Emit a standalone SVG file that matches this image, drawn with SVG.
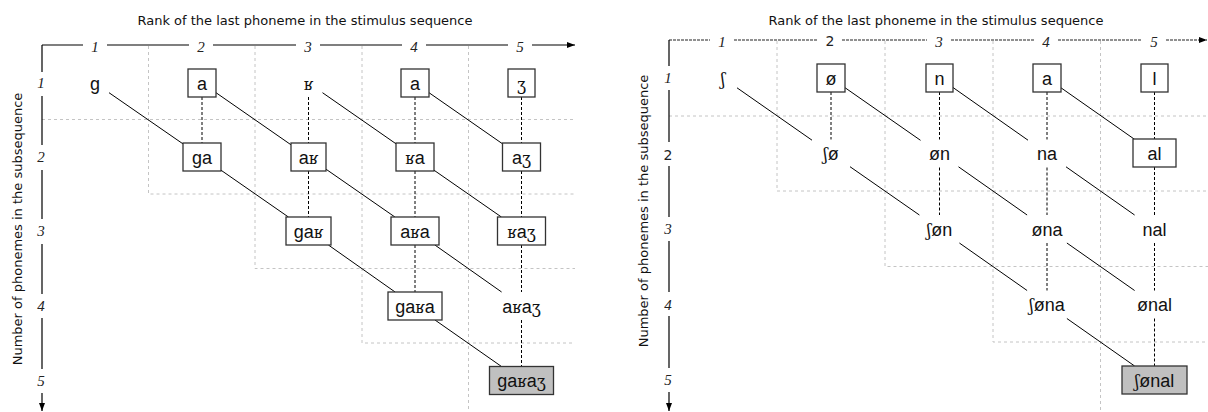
<svg xmlns="http://www.w3.org/2000/svg" width="1208" height="412" viewBox="0 0 1208 412">
<style>
.title{font-family:"DejaVu Sans",Verdana,sans-serif;font-size:13px;fill:#111}
.ax{fill:none;stroke:#000;stroke-width:1.2}
.axd{fill:none;stroke:#222;stroke-width:1.2;stroke-dasharray:3,1}
.lab{font-family:"Liberation Serif","DejaVu Serif",serif;font-style:italic;font-size:15px;fill:#222;text-anchor:middle}
.labs{font-family:"DejaVu Sans",sans-serif;font-size:14px;fill:#222;text-anchor:middle}
.grid{fill:none;stroke:#c4c4c4;stroke-width:1;stroke-dasharray:3,3}
.diag{stroke:#000;stroke-width:1}
.vert{stroke:#000;stroke-width:1;stroke-dasharray:3,2}
.box{fill:#fff;stroke:#333;stroke-width:1.3}
.fin{fill:#c0c0c0;stroke:#333;stroke-width:1.3}
.t{font-family:"Liberation Sans","DejaVu Serif",sans-serif;font-size:18px;fill:#111;text-anchor:middle}
.ipa{font-family:"DejaVu Serif","Liberation Serif",serif;font-size:16px}
</style>
<defs>
<marker id="arr" markerUnits="userSpaceOnUse" markerWidth="9" markerHeight="7" refX="8" refY="3.5" orient="auto">
<path d="M0,0.5 L8,3.5 L0,6.5 z" fill="#000" stroke="none"/>
</marker>
</defs>

<!-- ===== LEFT PANEL ===== -->
<g id="left-grid" class="grid">
<path d="M42,119.5 H575"/>
<path d="M148.5,46 V194 H575"/>
<path d="M255,46 V268.5 H575"/>
<path d="M362,46 V343 H575"/>
<path d="M468.5,46 V412"/>
</g>
<g id="left-axes">
<text class="title" x="305" y="25" text-anchor="middle">Rank of the last phoneme in the stimulus sequence</text>
<text class="title" transform="translate(22,229) rotate(-90)" text-anchor="middle">Number of phonemes in the subsequence</text>
<path class="ax" d="M42,45 H83 M107,45 H189 M213,45 H296 M320,45 H402 M426,45 H508"/>
<path class="ax" d="M532,45 H575" marker-end="url(#arr)"/>
<path class="ax" d="M42,45 V72 M42,96 V145 M42,170 V219 M42,244 V294 M42,318 V369"/>
<path class="ax" d="M42,393 V411" marker-end="url(#arr)"/>
<text class="lab" x="95" y="51.5">1</text>
<text class="lab" x="201" y="51.5">2</text>
<text class="lab" x="308" y="51.5">3</text>
<text class="lab" x="414" y="51.5">4</text>
<text class="lab" x="520" y="51.5">5</text>
<text class="lab" x="41" y="88">1</text>
<text class="lab" x="41" y="162">2</text>
<text class="lab" x="41" y="236">3</text>
<text class="lab" x="41" y="311">4</text>
<text class="lab" x="41" y="385.5">5</text>
</g>
<g id="left-connectors">
<line class="diag" x1="109" y1="92.7" x2="183" y2="143.9"/>
<line class="diag" x1="216" y1="92.7" x2="291" y2="144.8"/>
<line class="diag" x1="322.5" y1="92.7" x2="396" y2="143.8"/>
<line class="diag" x1="429" y1="92.7" x2="502.5" y2="143.8"/>
<line class="diag" x1="221" y1="170.2" x2="288.4" y2="217"/>
<line class="diag" x1="326" y1="169.2" x2="394.9" y2="217"/>
<line class="diag" x1="434" y1="170.2" x2="501.4" y2="217"/>
<line class="diag" x1="328.4" y1="245" x2="395.1" y2="292"/>
<line class="diag" x1="434.9" y1="245" x2="501.6" y2="292"/>
<line class="diag" x1="435" y1="320" x2="501.5" y2="366.5"/>
<line class="vert" x1="202" y1="97" x2="202" y2="143"/>
<line class="vert" x1="308.5" y1="97" x2="308.5" y2="143"/>
<line class="vert" x1="308.5" y1="171" x2="308.5" y2="217"/>
<line class="vert" x1="415" y1="97" x2="415" y2="143"/>
<line class="vert" x1="415" y1="171" x2="415" y2="217"/>
<line class="vert" x1="415" y1="245" x2="415" y2="292"/>
<line class="vert" x1="521.5" y1="97" x2="521.5" y2="143"/>
<line class="vert" x1="521.5" y1="171" x2="521.5" y2="217"/>
<line class="vert" x1="521.5" y1="245" x2="521.5" y2="292"/>
<line class="vert" x1="521.5" y1="320" x2="521.5" y2="366.5"/>
</g>
<g id="L-g"><text class="t" x="95" y="89.5">g</text></g>
<g id="L-a1"><rect class="box" x="188" y="69" width="28" height="28"/><text class="t" x="202" y="89.5">a</text></g>
<g id="L-r"><text class="t" x="308.5" y="89.5"><tspan class="ipa">ʁ</tspan></text></g>
<g id="L-a2"><rect class="box" x="401" y="69" width="28" height="28"/><text class="t" x="415" y="89.5">a</text></g>
<g id="L-zh"><rect class="box" x="508" y="69" width="27" height="28"/><text class="t" x="521.5" y="89.5"><tspan class="ipa">ʒ</tspan></text></g>
<g id="L-ga"><rect class="box" x="183" y="143" width="38" height="28"/><text class="t" x="202" y="163.5">ga</text></g>
<g id="L-ar"><rect class="box" x="291" y="143" width="35" height="28"/><text class="t" x="308.5" y="163.5">a<tspan class="ipa">ʁ</tspan></text></g>
<g id="L-ra"><rect class="box" x="396" y="143" width="38" height="28"/><text class="t" x="415" y="163.5"><tspan class="ipa">ʁ</tspan>a</text></g>
<g id="L-azh"><rect class="box" x="502.5" y="143" width="38" height="28"/><text class="t" x="521.5" y="163.5">a<tspan class="ipa">ʒ</tspan></text></g>
<g id="L-gar"><rect class="box" x="286" y="217" width="45" height="28"/><text class="t" x="308.5" y="237.5">ga<tspan class="ipa">ʁ</tspan></text></g>
<g id="L-ara"><rect class="box" x="391" y="217" width="48" height="28"/><text class="t" x="415" y="237.5">a<tspan class="ipa">ʁ</tspan>a</text></g>
<g id="L-razh"><rect class="box" x="497.5" y="217" width="48" height="28"/><text class="t" x="521.5" y="237.5"><tspan class="ipa">ʁ</tspan>a<tspan class="ipa">ʒ</tspan></text></g>
<g id="L-gara"><rect class="box" x="388" y="292" width="54" height="28"/><text class="t" x="415" y="312.5">ga<tspan class="ipa">ʁ</tspan>a</text></g>
<g id="L-arazh"><text class="t" x="521.5" y="312.5">a<tspan class="ipa">ʁ</tspan>a<tspan class="ipa">ʒ</tspan></text></g>
<g id="L-garazh"><rect class="fin" x="489.5" y="366.5" width="64" height="28"/><text class="t" x="521.5" y="387">ga<tspan class="ipa">ʁ</tspan>a<tspan class="ipa">ʒ</tspan></text></g>

<!-- ===== RIGHT PANEL ===== -->
<g id="right-grid" class="grid">
<path d="M669,116 H1208"/>
<path d="M777,41 V191 H1208"/>
<path d="M885,41 V266.5 H1208"/>
<path d="M993,41 V342 H1208"/>
<path d="M1100.5,41 V412"/>
</g>
<g id="right-axes">
<text class="title" x="936" y="25" text-anchor="middle">Rank of the last phoneme in the stimulus sequence</text>
<text class="title" transform="translate(648,211) rotate(-90)" text-anchor="middle">Number of phonemes in the subsequence</text>
<path class="axd" d="M669,40 H710 M734,40 H818 M842,40 H927 M951,40 H1034 M1058,40 H1142"/>
<path class="axd" d="M1166,40 H1207" marker-end="url(#arr)"/>
<path class="ax" d="M669,40 V66 M669,90 V142 M669,166 V217 M669,241 V292 M669,316 V368"/>
<path class="ax" d="M669,392 V411" marker-end="url(#arr)"/>
<text class="lab" x="722" y="46.5">1</text>
<text class="labs" x="830" y="46">2</text>
<text class="lab" x="939" y="46.5">3</text>
<text class="lab" x="1046" y="46.5">4</text>
<text class="lab" x="1154" y="46.5">5</text>
<text class="lab" x="668" y="83">1</text>
<text class="labs" x="668" y="159.5">2</text>
<text class="lab" x="668" y="234">3</text>
<text class="lab" x="668" y="309.5">4</text>
<text class="lab" x="668" y="385">5</text>
</g>
<g id="right-connectors">
<line class="diag" x1="737" y1="87.8" x2="812" y2="140.2"/>
<line class="diag" x1="845" y1="87.7" x2="920.5" y2="140.3"/>
<line class="diag" x1="953" y1="87.5" x2="1028" y2="140.2"/>
<line class="diag" x1="1061" y1="87.8" x2="1134.5" y2="139.3"/>
<line class="diag" x1="850" y1="166.7" x2="919.4" y2="215"/>
<line class="diag" x1="958.5" y1="166.8" x2="1027.1" y2="215"/>
<line class="diag" x1="1066" y1="166.8" x2="1134.6" y2="215"/>
<line class="diag" x1="959.4" y1="243" x2="1027.1" y2="290.5"/>
<line class="diag" x1="1066.9" y1="243" x2="1134.6" y2="290.5"/>
<line class="diag" x1="1066.9" y1="318.5" x2="1134.6" y2="366"/>
<line class="vert" x1="831" y1="92" x2="831" y2="139.5"/>
<line class="vert" x1="939.5" y1="92" x2="939.5" y2="139.5"/>
<line class="vert" x1="939.5" y1="167.5" x2="939.5" y2="215"/>
<line class="vert" x1="1047" y1="92" x2="1047" y2="139.5"/>
<line class="vert" x1="1047" y1="167.5" x2="1047" y2="215"/>
<line class="vert" x1="1047" y1="243" x2="1047" y2="290.5"/>
<line class="vert" x1="1154.5" y1="92" x2="1154.5" y2="139"/>
<line class="vert" x1="1154.5" y1="167" x2="1154.5" y2="215"/>
<line class="vert" x1="1154.5" y1="243" x2="1154.5" y2="290.5"/>
<line class="vert" x1="1154.5" y1="318.5" x2="1154.5" y2="366"/>
</g>
<g id="R-sh"><text class="t" x="723" y="84.5"><tspan class="ipa">ʃ</tspan></text></g>
<g id="R-oe"><rect class="box" x="817" y="64" width="28" height="28"/><text class="t" x="831" y="84.5">ø</text></g>
<g id="R-n"><rect class="box" x="926" y="64" width="27" height="28"/><text class="t" x="939.5" y="84.5">n</text></g>
<g id="R-a"><rect class="box" x="1033" y="64" width="28" height="28"/><text class="t" x="1047" y="84.5">a</text></g>
<g id="R-l"><rect class="box" x="1141" y="64" width="27" height="28"/><text class="t" x="1154.5" y="84.5">l</text></g>
<g id="R-shoe"><text class="t" x="831" y="160"><tspan class="ipa">ʃ</tspan>ø</text></g>
<g id="R-oen"><text class="t" x="939.5" y="160">øn</text></g>
<g id="R-na"><text class="t" x="1047" y="160">na</text></g>
<g id="R-al"><rect class="box" x="1133" y="139" width="43" height="28"/><text class="t" x="1154.5" y="159.5">al</text></g>
<g id="R-shoen"><text class="t" x="939.5" y="235.5"><tspan class="ipa">ʃ</tspan>øn</text></g>
<g id="R-oena"><text class="t" x="1047" y="235.5">øna</text></g>
<g id="R-nal"><text class="t" x="1154.5" y="235.5">nal</text></g>
<g id="R-shoena"><text class="t" x="1047" y="311"><tspan class="ipa">ʃ</tspan>øna</text></g>
<g id="R-oenal"><text class="t" x="1154.5" y="311">ønal</text></g>
<g id="R-shoenal"><rect class="fin" x="1122" y="366" width="65" height="28"/><text class="t" x="1154.5" y="386.5"><tspan class="ipa">ʃ</tspan>ønal</text></g>
</svg>
